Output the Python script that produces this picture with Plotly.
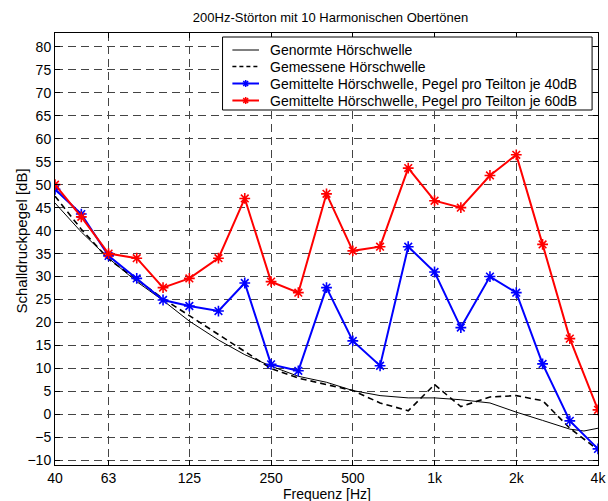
import plotly.graph_objects as go
import numpy as np

# 1/3-octave band centre frequencies (Hz)
freqs = [40, 50, 63, 80, 100, 125, 160, 200, 250, 315, 400, 500,
         630, 800, 1000, 1250, 1600, 2000, 2500, 3150, 4000]

# standard threshold curve has one extra point near 3.5 kHz
freqs_norm = [40, 50, 63, 80, 100, 125, 160, 200, 250, 315, 400, 500,
              630, 800, 1000, 1250, 1600, 2000, 2500, 3150, 3550, 4000]
genormt = [46.0, 39.7, 34.0, 28.9, 24.8, 20.3, 16.2, 13.0, 10.5, 8.3, 7.0, 5.2,
           4.1, 3.6, 3.6, 3.2, 2.5, 0.5, -1.3, -3.2, -3.6, -3.0]

gemessen = [47.5, 40.3, 33.8, 29.3, 25.2, 21.5, 17.3, 13.7, 10.0, 7.9, 6.5, 5.2,
            2.5, 0.8, 6.5, 1.7, 3.8, 4.1, 3.0, -3.0, -7.7]

pegel40 = [49.0, 43.6, 34.5, 29.6, 24.9, 23.6, 22.5, 28.6, 10.9, 9.5, 27.6, 16.0,
           10.6, 36.5, 31.0, 18.9, 30.0, 26.5, 11.0, -1.4, -7.5]

pegel60 = [50.0, 43.0, 35.0, 34.0, 27.6, 29.6, 34.0, 47.0, 28.9, 26.5, 48.0, 35.6,
           36.5, 53.6, 46.5, 45.0, 52.0, 56.5, 37.0, 16.5, 1.0]

series_names = ["Genormte Hörschwelle",
                "Gemessene Hörschwelle",
                "Gemittelte Hörschwelle, Pegel pro Teilton je 40dB",
                "Gemittelte Hörschwelle, Pegel pro Teilton je 60dB"]

x_tickvals = [40, 63, 125, 250, 500, 1000, 2000, 4000]
x_ticktext = ["40", "63", "125", "250", "500", "1k", "2k", "4k"]
y_tickvals = list(range(-10, 81, 5))

FONT = "Liberation Sans, Arial, sans-serif"
BLUE = "#0000ff"
RED = "#ff0000"

# plot area in pixels (MATLAB-style figure)
L, R, T, B = 55, 606, 33, 465
W, H = R - L, B - T


def px(x):
    return (x - L) / W


def py(y):
    return (B - y) / H


fig = go.Figure()
fig.add_trace(go.Scatter(
    x=freqs_norm, y=genormt, mode="lines", name=series_names[0],
    line=dict(color="black", width=1),
))
fig.add_trace(go.Scatter(
    x=freqs, y=gemessen, mode="lines", name=series_names[1],
    line=dict(color="black", width=1.6, dash="6px,4px"),
))
fig.add_trace(go.Scatter(
    x=freqs, y=pegel40, mode="lines+markers", name=series_names[2],
    line=dict(color=BLUE, width=2),
    marker=dict(symbol="asterisk-open", size=9, line=dict(color=BLUE, width=1.6)),
))
fig.add_trace(go.Scatter(
    x=freqs, y=pegel60, mode="lines+markers", name=series_names[3],
    line=dict(color=RED, width=2),
    marker=dict(symbol="asterisk-open", size=9, line=dict(color=RED, width=1.6)),
))

# legend drawn by hand so the rows are packed as tightly as in the original
shapes = [dict(type="rect", xref="paper", yref="paper", layer="above",
               x0=px(225), x1=px(600), y0=py(110), y1=py(37),
               fillcolor="white", line=dict(color="black", width=1))]
annotations = []
row_y = [50, 66.5, 83.5, 100.5]
styles = [("black", 1, "solid", False), ("black", 1.6, "4px,3px", False),
          (BLUE, 2, "solid", True), (RED, 2, "solid", True)]
for name, yy, (col, lw, dash, star) in zip(series_names, row_y, styles):
    shapes.append(dict(type="line", xref="paper", yref="paper", layer="above",
                       x0=px(235), x1=px(262), y0=py(yy), y1=py(yy),
                       line=dict(color=col, width=lw, dash=dash)))
    if star:
        cx, r = 248.5, 3.5
        path = (f"M{px(cx - r)},{py(yy)} L{px(cx + r)},{py(yy)} "
                f"M{px(cx)},{py(yy - r)} L{px(cx)},{py(yy + r)} "
                f"M{px(cx - r * 0.7)},{py(yy - r * 0.7)} L{px(cx + r * 0.7)},{py(yy + r * 0.7)} "
                f"M{px(cx - r * 0.7)},{py(yy + r * 0.7)} L{px(cx + r * 0.7)},{py(yy - r * 0.7)}")
        shapes.append(dict(type="path", xref="paper", yref="paper", layer="above",
                           path=path, line=dict(color=col, width=1.5)))
    annotations.append(dict(text=name, xref="paper", yref="paper",
                            x=px(271), y=py(yy), xanchor="left", yanchor="middle",
                            showarrow=False,
                            font=dict(family=FONT, size=14, color="black")))

annotations += [
    dict(text="Frequenz [Hz]", xref="paper", yref="paper",
         x=0.5, y=py(493.5), xanchor="center", yanchor="middle",
         showarrow=False, font=dict(family=FONT, size=14, color="black")),
    dict(text="Schalldruckpegel [dB]", xref="paper", yref="paper",
         x=px(20), y=py(241), xanchor="center", yanchor="middle",
         textangle=-90, showarrow=False,
         font=dict(family=FONT, size=15, color="black")),
]

axis_common = dict(
    showline=True, linecolor="black", linewidth=1, mirror="allticks",
    ticks="inside", ticklen=5, tickcolor="black",
    showgrid=True, gridcolor="#444444", gridwidth=1, griddash="8px,5px",
    zeroline=False, tickfont=dict(family=FONT, size=14, color="black"),
    ticklabeloverflow="allow", fixedrange=True,
)

fig.update_layout(
    width=608, height=501,
    margin=dict(l=L, r=608 - R, t=T, b=501 - B),
    paper_bgcolor="white", plot_bgcolor="white",
    font=dict(family=FONT, color="black"),
    title=dict(text="200Hz-Störton mit 10 Harmonischen Obertönen",
               font=dict(family=FONT, size=13, color="black"),
               x=(L + R) / 2 / 608, xanchor="center",
               y=1 - 17 / 501, yanchor="middle"),
    xaxis=dict(type="log", range=[np.log10(40), np.log10(4000)],
               tickvals=x_tickvals, ticktext=x_ticktext, **axis_common),
    yaxis=dict(range=[-11, 83], tickvals=y_tickvals, **axis_common),
    showlegend=False,
    shapes=shapes,
    annotations=annotations,
)

# page body has a default 8px margin; drop it so the figure sits at the window corner
fig.write_html("out.html", config={"displayModeBar": False},
               post_script="document.body.style.margin='0';")
